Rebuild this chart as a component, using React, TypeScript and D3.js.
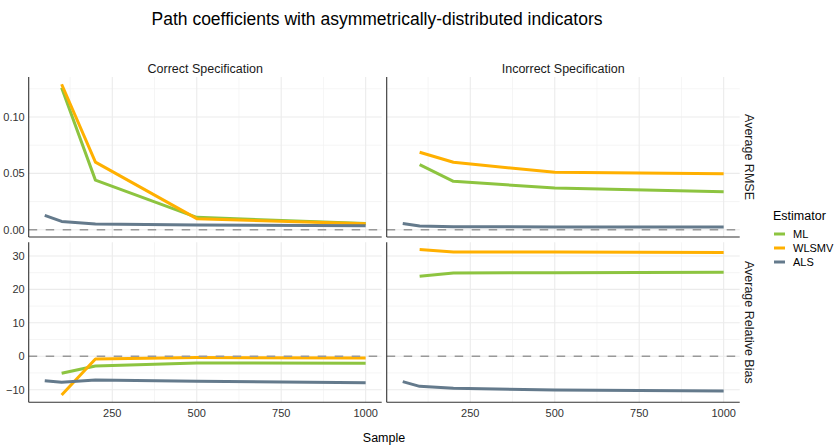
import React from "react";
import * as d3 from "d3";

const samplesALS = [50, 100, 200, 500, 1000];
const samplesOther = [100, 200, 500, 1000];

const estimators = ["ML", "WLSMV", "ALS"];
const colors = ["#8DC440", "#FFB000", "#647A8C"];

const specs = ["Correct Specification", "Incorrect Specification"];
const measures = ["Average RMSE", "Average Relative Bias"];

// RMSE
const rmseCorrectML = [0.126, 0.044, 0.011, 0.0055];
const rmseCorrectWLSMV = [0.129, 0.06, 0.0098, 0.0052];
const rmseCorrectALS = [0.0127, 0.0074, 0.005, 0.0042, 0.0036];
const rmseIncorrectML = [0.0577, 0.0429, 0.037, 0.0337];
const rmseIncorrectWLSMV = [0.0687, 0.0598, 0.0509, 0.0497];
const rmseIncorrectALS = [0.0056, 0.0033, 0.0027, 0.0025, 0.0025];

// relative bias
const biasCorrectML = [-5.1, -2.9, -2.0, -2.1];
const biasCorrectWLSMV = [-11.6, -0.8, -0.4, -0.5];
const biasCorrectALS = [-7.3, -7.8, -7.1, -7.5, -7.9];
const biasIncorrectML = [23.9, 24.9, 25.0, 25.1];
const biasIncorrectWLSMV = [31.9, 31.2, 31.2, 31.0];
const biasIncorrectALS = [-7.6, -9.0, -9.6, -10.1, -10.4];

const xTicks = [250, 500, 750, 1000];
const xMinor = [125, 375, 625, 875];
const rmseTicks = [0, 0.05, 0.1];
const rmseMinor = [0.025, 0.075, 0.125];
const biasTicks = [-10, 0, 10, 20, 30];
const biasMinor = [-5, 5, 15, 25];

// rows x cols -> series [ML, WLSMV, ALS]
const panelData = [
  [
    [rmseCorrectML, rmseCorrectWLSMV, rmseCorrectALS],
    [rmseIncorrectML, rmseIncorrectWLSMV, rmseIncorrectALS],
  ],
  [
    [biasCorrectML, biasCorrectWLSMV, biasCorrectALS],
    [biasIncorrectML, biasIncorrectWLSMV, biasIncorrectALS],
  ],
];
const rowTicks = [rmseTicks, biasTicks];
const rowMinor = [rmseMinor, biasMinor];
const rowFormat = [d3.format(".2f"), d3.format("d")];

const W = 836;
const H = 448;
const panelX0 = 28.7;
const panelW = 353;
const gapX = 5;
const panelY0 = 77;
const panelH = 160;
const gapY = 5.3;

function expand(lo: number, hi: number): [number, number] {
  const r = hi - lo;
  return [lo - r * 0.05, hi + r * 0.05];
}

export default function App() {
  const x = d3
    .scaleLinear()
    .domain(expand(50, 1000))
    .range([0, panelW]);

  const yScales = panelData.map((row) => {
    const all = row.flat(2).concat([0]);
    return d3
      .scaleLinear()
      .domain(expand(d3.min(all)!, d3.max(all)!))
      .range([panelH, 0]);
  });

  const font = "'Liberation Sans', Arial, sans-serif";

  return (
    <svg
      width={W}
      height={H}
      style={{ position: "absolute", left: 0, top: 0, background: "white" }}
      fontFamily={font}
    >
      <rect width={W} height={H} fill="white" />
      <text x={377} y={25} textAnchor="middle" fontSize={17.5} fill="#000">
        Path coefficients with asymmetrically-distributed indicators
      </text>

      {specs.map((s, c) => (
        <text
          key={s}
          x={panelX0 + c * (panelW + gapX) + panelW / 2}
          y={73}
          textAnchor="middle"
          fontSize={12.5}
          fill="#1a1a1a"
        >
          {s}
        </text>
      ))}

      {measures.map((m, r) => {
        const cy = panelY0 + r * (panelH + gapY) + panelH / 2;
        return (
          <text
            key={m}
            transform={`translate(745,${cy}) rotate(90)`}
            textAnchor="middle"
            fontSize={12.5}
            fill="#1a1a1a"
          >
            {m}
          </text>
        );
      })}

      {panelData.map((row, r) =>
        row.map((series, c) => {
          const y = yScales[r];
          const px = panelX0 + c * (panelW + gapX);
          const py = panelY0 + r * (panelH + gapY);
          return (
            <g key={`${r}-${c}`} transform={`translate(${px},${py})`}>
              {xMinor.map((t) => (
                <line key={`xm${t}`} x1={x(t)} x2={x(t)} y1={0} y2={panelH} stroke="#f2f2f2" strokeWidth={0.8} />
              ))}
              {rowMinor[r].map((t) => (
                <line key={`ym${t}`} x1={0} x2={panelW} y1={y(t)} y2={y(t)} stroke="#f2f2f2" strokeWidth={0.8} />
              ))}
              {xTicks.map((t) => (
                <line key={`x${t}`} x1={x(t)} x2={x(t)} y1={0} y2={panelH} stroke="#ebebeb" strokeWidth={1.1} />
              ))}
              {rowTicks[r].map((t) => (
                <line key={`y${t}`} x1={0} x2={panelW} y1={y(t)} y2={y(t)} stroke="#ebebeb" strokeWidth={1.1} />
              ))}
              {series.map((vals, i) => {
                const xs = vals.length === samplesALS.length ? samplesALS : samplesOther;
                const line = d3
                  .line<number>()
                  .x((_, j) => x(xs[j]))
                  .y((v) => y(v));
                return (
                  <path
                    key={estimators[i]}
                    d={line(vals) || ""}
                    fill="none"
                    stroke={colors[i]}
                    strokeWidth={3}
                    strokeLinejoin="round"
                  />
                );
              })}
              <line
                x1={0}
                x2={panelW}
                y1={y(0)}
                y2={y(0)}
                stroke="#999"
                strokeWidth={1.7}
                strokeDasharray="8.5,8.5"
              />
              <line x1={0} x2={0} y1={0} y2={panelH} stroke="#333" strokeWidth={1.1} />
              <line x1={0} x2={panelW} y1={panelH} y2={panelH} stroke="#333" strokeWidth={1.1} />
              {c === 0 &&
                rowTicks[r].map((t) => (
                  <text
                    key={`yl${t}`}
                    x={-4}
                    y={y(t)}
                    dy="0.35em"
                    textAnchor="end"
                    fontSize={11}
                    fill="#333"
                  >
                    {rowFormat[r](t)}
                  </text>
                ))}
              {r === 1 &&
                xTicks.map((t) => (
                  <text
                    key={`xl${t}`}
                    x={x(t)}
                    y={panelH + 15}
                    textAnchor="middle"
                    fontSize={11}
                    fill="#333"
                  >
                    {t}
                  </text>
                ))}
            </g>
          );
        })
      )}

      <text x={384} y={442} textAnchor="middle" fontSize={12.5} fill="#000">
        Sample
      </text>

      <text x={773} y={220} fontSize={12.5} fill="#000">
        Estimator
      </text>
      {estimators.map((e, i) => (
        <g key={e} transform={`translate(774,${234 + i * 14})`}>
          <line x1={0} x2={11} y1={0} y2={0} stroke={colors[i]} strokeWidth={3} />
          <text x={19} y={0} dy="0.35em" fontSize={11} fill="#000">
            {e}
          </text>
        </g>
      ))}
    </svg>
  );
}
